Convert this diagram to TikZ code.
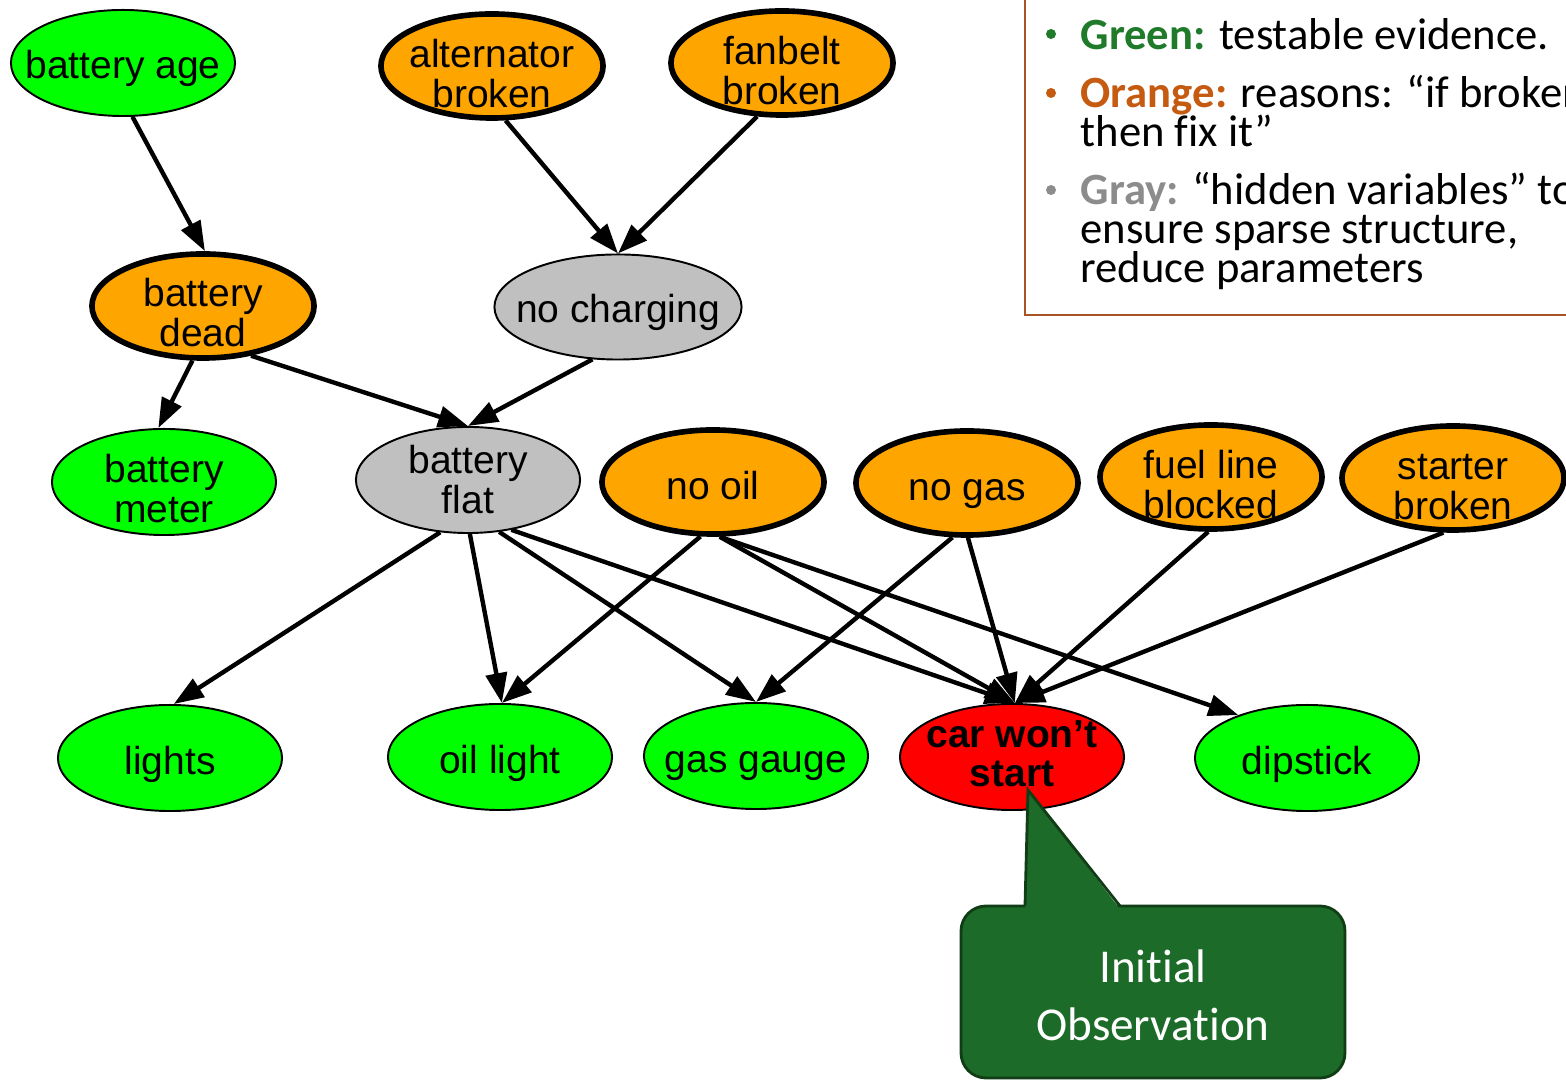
\documentclass[tikz,border=0pt]{standalone}
\usepackage{fontspec}
\setmainfont{Liberation Sans}
\newfontfamily\legendfont[Ligatures=NoCommon]{Carlito}
\usetikzlibrary{shapes.geometric,arrows.meta}

\definecolor{evgreen}{RGB}{0,255,0}
\definecolor{reasonorange}{RGB}{255,165,0}
\definecolor{hiddengray}{RGB}{192,192,192}
\definecolor{obsred}{RGB}{255,0,0}
\definecolor{keygreen}{RGB}{31,122,42}
\definecolor{keyorange}{RGB}{197,90,17}
\definecolor{keygray}{RGB}{140,140,140}
\definecolor{keyframe}{RGB}{168,84,36}
\definecolor{calloutfill}{RGB}{28,107,40}
\definecolor{calloutline}{RGB}{16,60,22}

\tikzset{
  % ellipse outlines keep their given size; the labels are set separately
  var/.style={ellipse, draw=black, inner sep=0pt,
    minimum width=2.24cm, minimum height=1.06cm},
  evidence/.style={var, fill=evgreen, line width=0.55pt},
  reason/.style={var, fill=reasonorange, line width=1.6pt,
    minimum width=2.22cm, minimum height=1.04cm},
  hidden/.style={var, fill=hiddengray, line width=0.55pt},
  observed/.style={var, fill=obsred, line width=0.55pt},
  oneline/.style={anchor=base, inner sep=0pt,
    font=\fontsize{11.1}{11.4}\selectfont},
  twoline/.style={anchor=center, inner sep=0pt, align=center,
    font=\fontsize{11.1}{11.4}\selectfont},
  edge/.style={line width=1.25pt, -{Triangle[length=8.5pt,width=6pt]}},
  keyline/.style={anchor=base west, inner sep=0pt,
    font=\legendfont\fontsize{12.7}{13}\selectfont},
}

\begin{document}
\begin{tikzpicture}[x=0.01cm, y=-0.01cm]
\clip (0,0) rectangle (1566,1080);

% legend box (runs off the top and right edges)
\draw[keyframe, line width=0.6pt, fill=white] (1025,-20) rectangle (1640,315);
\fill[keygreen]  (1051,34) circle (5);
\fill[keyorange] (1051,93) circle (5);
\fill[keygray]   (1051,190) circle (5);
\node[keyline] (k1) at (1080,50) {{\bfseries\color{keygreen}Green:} testable evidence.};
\node[keyline] (k2) at (1080,108) {{\bfseries\color{keyorange}Orange:} reasons: “if broken};
\node[keyline] (k3) at (1080,147) {then fix it”};
\node[keyline] (k4) at (1080,205) {{\bfseries\color{keygray}Gray:} “hidden variables” to};
\node[keyline] (k5) at (1080,244) {ensure sparse structure,};
\node[keyline] (k6) at (1080,283) {reduce parameters};

% variables
\node[evidence] (ba) at (123,63)  {};
\node[reason]   (ab) at (492,66)  {};
\node[reason]   (fb) at (782,63)  {};
\node[reason]   (bd) at (203,306) {};
\node[hidden, minimum width=2.47cm, minimum height=1.05cm] (nc) at (618,307) {};
\node[evidence] (bm) at (164,482) {};
\node[hidden]   (bf) at (468,480) {};
\node[reason]   (no) at (713,482) {};
\node[reason]   (ng) at (967,483) {};
\node[reason]   (fl) at (1211,477) {};
\node[reason]   (sb) at (1453,478) {};
\node[evidence] (li) at (170,758) {};
\node[evidence] (ol) at (500,757) {};
\node[evidence] (gg) at (756,756) {};
\node[observed] (cw) at (1012,757) {};
\node[evidence] (ds) at (1307,758) {};

% variable names
\node[oneline] (ba-t) at ([yshift=-0.155cm]ba.center) {battery age};
\node[oneline] (nc-t) at ([yshift=-0.155cm]nc.center) {no charging};
\node[oneline] (no-t) at ([yshift=-0.175cm]no.center) {no oil};
\node[oneline] (ng-t) at ([yshift=-0.175cm]ng.center) {no gas};
\node[oneline] (li-t) at ([yshift=-0.16cm]li.center) {lights};
\node[oneline] (ol-t) at ([yshift=-0.16cm]ol.center) {oil light};
\node[oneline] (gg-t) at ([yshift=-0.16cm]gg.center) {gas gauge};
\node[oneline] (ds-t) at ([yshift=-0.16cm]ds.center) {dipstick};
\node[twoline] (ab-t) at ([yshift=-0.08cm]ab.center) {alternator\\broken};
\node[twoline] (fb-t) at ([yshift=-0.08cm]fb.center) {fanbelt\\broken};
\node[twoline] (bd-t) at ([yshift=-0.07cm]bd.center) {battery\\dead};
\node[twoline] (bm-t) at ([yshift=-0.07cm]bm.center) {battery\\meter};
\node[twoline] (bf-t) at (bf.center) {battery\\flat};
\node[twoline] (fl-t) at ([yshift=-0.08cm]fl.center) {fuel line\\blocked};
\node[twoline] (sb-t) at ([yshift=-0.09cm]sb.center) {starter\\broken};
\node[twoline, font=\fontsize{11.1}{11}\selectfont\bfseries] (cw-t)
  at ([yshift=0.03cm]cw.center) {car won’t\\start};

% dependencies
\draw[edge] (ba.-80)  -- (bd.88);
\draw[edge] (ab.-76)  -- (nc.90);
\draw[edge] (fb.-115) -- (nc.90);
\draw[edge] (bd.-101) -- (bm.96);
\draw[edge] (bd.-46)  -- (bf.90);
\draw[edge] (nc.-116) -- (bf.90);
\draw[edge] (bf.-118) -- (li.86);
\draw[edge] (bf.-88)  -- (ol.88);
\draw[edge] (bf.-59)  -- (gg.90);
\draw[edge] (bf.-49)  -- (cw.87);
\draw[edge] (no.-103) -- (ol.88);
\draw[edge] (no.-83)  -- (cw.87);
\draw[edge] (no.-83)  -- (ds.148);
\draw[edge] (ng.-105) -- (gg.90);
\draw[edge] (ng.-89)  -- (cw.87);
\draw[edge] (fl.-93)  -- (cw.87);
\draw[edge] (sb.-100) -- (cw.87);

% callout
\coordinate (tip) at (1028,790);
\draw[calloutline, fill=calloutfill, line width=0.8pt, rounded corners=0.25cm]
  (961,906) rectangle (1345,1078);
\fill[calloutfill] (1025,909) -- (tip) -- (1120,909) -- cycle;
\draw[calloutline, line width=0.8pt] (1025,906) -- (tip) -- (1120,906);
\node[text=white, align=center, inner sep=0pt,
  font=\legendfont\fontsize{13.4}{16.5}\selectfont] (obs) at (1153,995)
  {Initial\\Observation};
\end{tikzpicture}
\end{document}
